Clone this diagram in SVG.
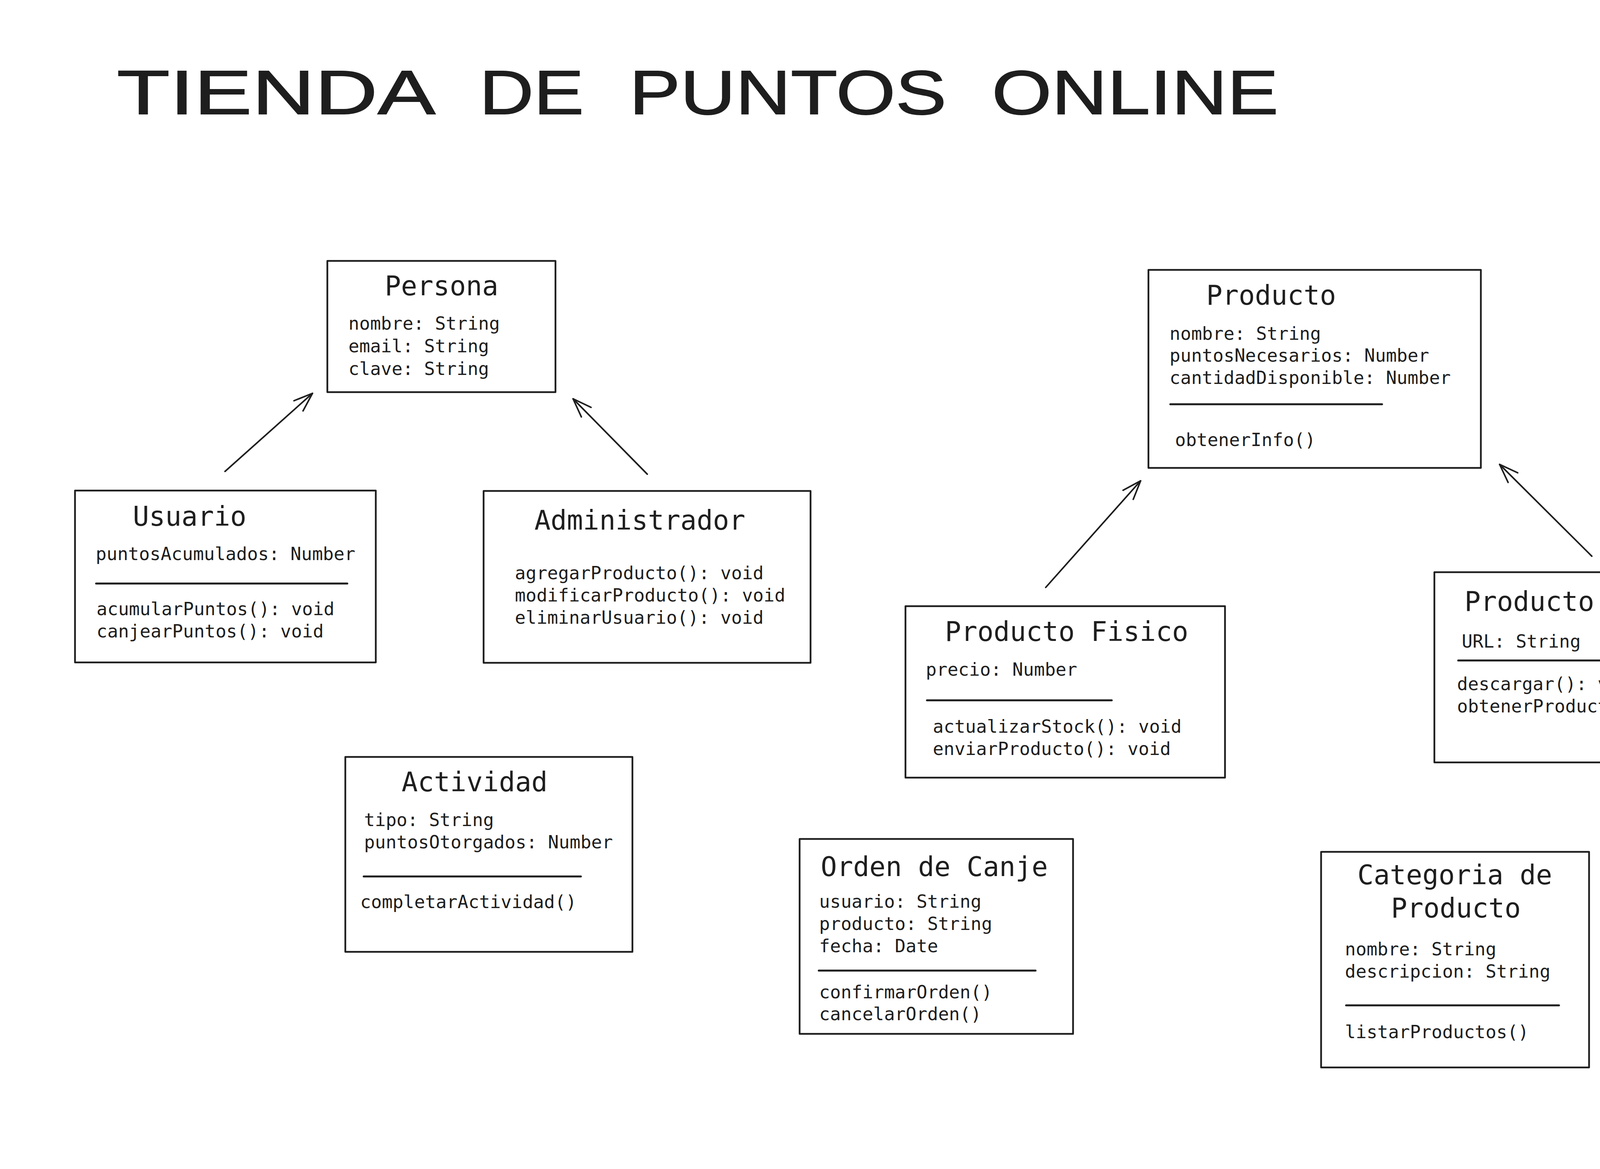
<svg xmlns="http://www.w3.org/2000/svg" width="5233" height="2993" viewBox="0 0 5233 2993">
<style>
.box{fill:none;stroke:#1e1e1e;stroke-width:4.5;stroke-linejoin:round}
.sep{stroke:#1e1e1e;stroke-width:5;stroke-linecap:round}
.t{font-family:"DejaVu Sans Mono","Liberation Mono",monospace;font-size:69px;fill:#1e1e1e}
.a{font-family:"DejaVu Sans Mono","Liberation Mono",monospace;font-size:46px;fill:#1e1e1e}
.con{fill:none;stroke:#1e1e1e;stroke-width:4;stroke-linecap:round}
.title{font-family:"Liberation Sans",Arial,sans-serif;font-size:160px;fill:#1e1e1e;stroke:#1e1e1e;stroke-width:2}
</style>
<defs>
<marker id="arr" markerUnits="userSpaceOnUse" viewBox="-60 -30 70 60" refX="0" refY="0" markerWidth="70" markerHeight="60" orient="auto" overflow="visible">
<path d="M-48,-17.4 L0,0 L-48,17.4" fill="none" stroke="#1e1e1e" stroke-width="4" stroke-linecap="round" stroke-linejoin="round"/>
</marker>
</defs>
<rect width="5233" height="2993" fill="#ffffff"/>
<g id="title">
<text class="title" x="299" y="292" textLength="816" lengthAdjust="spacingAndGlyphs">TIENDA</text>
<text class="title" x="1227" y="292" textLength="268" lengthAdjust="spacingAndGlyphs">DE</text>
<text class="title" x="1611" y="292" textLength="812" lengthAdjust="spacingAndGlyphs">PUNTOS</text>
<text class="title" x="2539" y="292" textLength="734" lengthAdjust="spacingAndGlyphs">ONLINE</text>
</g>

<g id="connectors">
<line class="con" x1="576" y1="1207" x2="800" y2="1007" marker-end="url(#arr)"/>
<line class="con" x1="1657" y1="1214" x2="1467" y2="1021" marker-end="url(#arr)"/>
<line class="con" x1="2677" y1="1504" x2="2920" y2="1231" marker-end="url(#arr)"/>
<line class="con" x1="4075" y1="1424" x2="3839" y2="1189" marker-end="url(#arr)"/>
</g>

<g id="persona">
<rect class="box" x="838" y="668" width="584" height="336"/>
<text class="t" x="985" y="756">Persona</text>
<text class="a" x="892" y="844">nombre: String</text>
<text class="a" x="892" y="902">email: String</text>
<text class="a" x="892" y="960">clave: String</text>
</g>

<g id="usuario">
<rect class="box" x="192" y="1256" width="770" height="440"/>
<text class="t" x="340" y="1346">Usuario</text>
<text class="a" x="245" y="1434">puntosAcumulados: Number</text>
<line class="sep" x1="246" y1="1494" x2="889" y2="1494"/>
<text class="a" x="247" y="1575">acumularPuntos(): void</text>
<text class="a" x="247" y="1632">canjearPuntos(): void</text>
</g>

<g id="administrador">
<rect class="box" x="1238" y="1257" width="837" height="440"/>
<text class="t" x="1368" y="1356">Administrador</text>
<text class="a" x="1318" y="1483">agregarProducto(): void</text>
<text class="a" x="1318" y="1540">modificarProducto(): void</text>
<text class="a" x="1318" y="1597">eliminarUsuario(): void</text>
</g>

<g id="producto">
<rect class="box" x="2940" y="691" width="851" height="507"/>
<text class="t" x="3088" y="780">Producto</text>
<text class="a" x="2994" y="870">nombre: String</text>
<text class="a" x="2994" y="926">puntosNecesarios: Number</text>
<text class="a" x="2994" y="983">cantidadDisponible: Number</text>
<line class="sep" x1="2996" y1="1035" x2="3538" y2="1035"/>
<text class="a" x="3008" y="1142">obtenerInfo()</text>
</g>

<g id="producto-fisico">
<rect class="box" x="2318" y="1552" width="818" height="439"/>
<text class="t" x="2419" y="1641">Producto Fisico</text>
<text class="a" x="2370" y="1730">precio: Number</text>
<line class="sep" x1="2373" y1="1793" x2="2846" y2="1793"/>
<text class="a" x="2388" y="1876">actualizarStock(): void</text>
<text class="a" x="2388" y="1933">enviarProducto(): void</text>
</g>

<g id="producto-digital">
<rect class="box" x="3672" y="1465" width="844" height="487"/>
<text class="t" x="3749" y="1564">Producto Digital</text>
<text class="a" x="3742" y="1658">URL: String</text>
<line class="sep" x1="3733" y1="1691" x2="4207" y2="1691"/>
<text class="a" x="3730" y="1767">descargar(): void</text>
<text class="a" x="3730" y="1824">obtenerProducto(): void</text>
</g>

<g id="actividad">
<rect class="box" x="884" y="1938" width="735" height="499"/>
<text class="t" x="1028" y="2026">Actividad</text>
<text class="a" x="932" y="2115">tipo: String</text>
<text class="a" x="932" y="2172">puntosOtorgados: Number</text>
<line class="sep" x1="931" y1="2244" x2="1487" y2="2244"/>
<text class="a" x="922" y="2325">completarActividad()</text>
</g>

<g id="orden-de-canje">
<rect class="box" x="2047" y="2148" width="700" height="499"/>
<text class="t" x="2101" y="2243">Orden de Canje</text>
<text class="a" x="2097" y="2324">usuario: String</text>
<text class="a" x="2097" y="2381">producto: String</text>
<text class="a" x="2097" y="2438">fecha: Date</text>
<line class="sep" x1="2096" y1="2485" x2="2651" y2="2485"/>
<text class="a" x="2097" y="2556">confirmarOrden()</text>
<text class="a" x="2097" y="2612">cancelarOrden()</text>
</g>

<g id="categoria-de-producto">
<rect class="box" x="3382" y="2181" width="686" height="552"/>
<text class="t" x="3475" y="2264">Categoria de</text>
<text class="t" x="3561" y="2349">Producto</text>
<text class="a" x="3443" y="2446">nombre: String</text>
<text class="a" x="3443" y="2503">descripcion: String</text>
<line class="sep" x1="3446" y1="2574" x2="3991" y2="2574"/>
<text class="a" x="3443" y="2658">listarProductos()</text>
</g>
</svg>
